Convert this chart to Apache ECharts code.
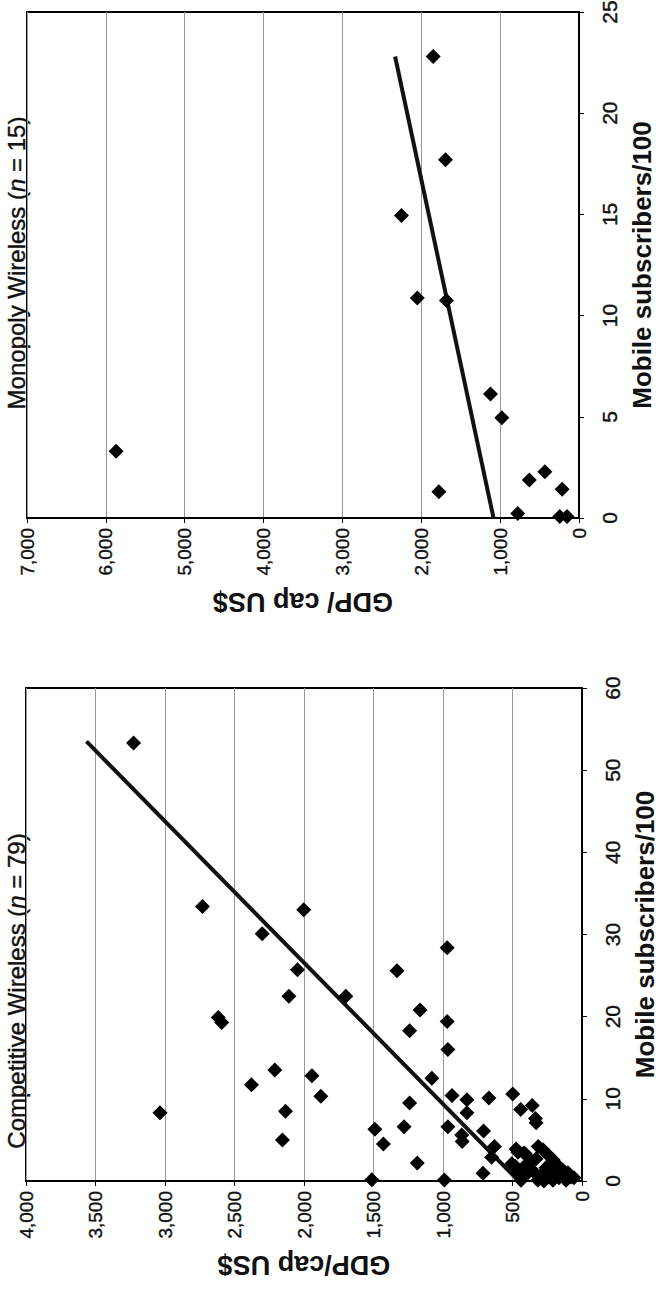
<!DOCTYPE html>
<html>
<head>
<meta charset="utf-8">
<script src="https://cdn.jsdelivr.net/npm/echarts@6/dist/echarts.min.js"></script>
<style>
html,body{margin:0;padding:0;background:#fff;}
#chart{width:665px;height:1295px;}
</style>
</head>
<body>
<div id="chart"></div>
<script>
// ---- Monopoly Wireless (n = 15) ----
var monopolyGdp  = [5870, 1849, 1693, 2252, 2050, 1681, 1122, 979, 433, 630, 214, 1777, 777, 244, 151];
var monopolySubs = [3.3, 22.8, 17.7, 14.95, 10.87, 10.75, 6.13, 4.95, 2.28, 1.88, 1.42, 1.3, 0.22, 0.08, 0.08];
var monopolyTrendGdp  = [1084, 2332];
var monopolyTrendSubs = [0, 22.8];

// ---- Competitive Wireless (n = 79) ----
var competitiveGdp = [
  3226, 2730, 2002, 2301, 970, 2047, 1331, 1699, 2109, 1165,
  2617, 2592, 970, 1240, 965, 2210, 1943, 1080, 2378, 1879,
  935, 498, 670, 828, 3036, 1240, 358, 2133, 441, 828,
  335, 330, 1490, 1280, 965, 708, 2155, 1429, 865, 862,
  630, 474, 315, 650, 1185, 407, 505, 712, 1512, 990,
  461, 418, 281, 245, 209, 173, 137, 101, 79, 418,
  367, 345, 389, 461, 295, 245, 209, 166, 115, 259,
  209, 151, 439, 317, 274, 58, 330, 480, 190
];
var competitiveSubs = [
  53.3, 33.4, 33.0, 30.1, 28.4, 25.7, 25.6, 22.5, 22.5, 20.8,
  19.9, 19.3, 19.4, 18.3, 16.0, 13.5, 12.8, 12.5, 11.7, 10.3,
  10.4, 10.6, 10.1, 9.9, 8.3, 9.5, 9.2, 8.5, 8.7, 8.3,
  7.6, 7.1, 6.3, 6.6, 6.6, 6.1, 5.0, 4.5, 5.6, 4.8,
  4.2, 3.9, 4.2, 2.9, 2.2, 3.3, 2.1, 0.95, 0.15, 0.12,
  3.5, 3.4, 3.8, 3.2, 2.6, 1.9, 1.3, 1.0, 0.5, 1.7,
  2.3, 1.1, 1.0, 1.0, 0.7, 0.5, 0.1, 0.4, 0.1, 1.6,
  1.1, 1.1, 0.1, 0.1, 0.0, 0.4, 2.7, 1.8, 2.0
];
var competitiveTrendGdp  = [470, 3565];
var competitiveTrendSubs = [0.25, 53.5];

var monopolyTitle = 'Monopoly Wireless (';
var monopolyTitleN = ' = 15)';
var competitiveTitle = 'Competitive Wireless (';
var competitiveTitleN = ' = 79)';
var gdpAxisNameTop = 'GDP/ cap US$';
var gdpAxisNameBottom = 'GDP/cap US$';
var subsAxisName = 'Mobile subscribers/100';

function zip(a, b) { return a.map(function (v, i) { return [v, b[i]]; }); }

var FONT = "'Liberation Sans Narrow', 'Arial Narrow', 'Liberation Sans', Arial, sans-serif";
var INK = '#000000';
var TXT = '#111111';

function fmt(v) { return v.toLocaleString('en-US'); }

function gdpAxis(gi, max, interval, name) {
  return {
    gridIndex: gi, type: 'value', min: 0, max: max, interval: interval,
    inverse: true, position: 'bottom',
    axisLine: { show: true, onZero: false, lineStyle: { color: INK, width: 2 } },
    axisTick: { show: true, length: 5, lineStyle: { color: INK, width: 1 } },
    axisLabel: { rotate: 90, margin: 10, fontSize: 19, fontFamily: FONT, color: TXT, formatter: fmt,
      textBorderColor: TXT, textBorderWidth: 0.4 },
    splitLine: { show: true, lineStyle: { color: '#999999', width: 1 } },
    name: name, nameLocation: 'middle', nameRotate: 180, nameGap: 70, nameMoveOverlap: false,
    nameTextStyle: { fontSize: 27, fontWeight: 'bold', fontFamily: FONT, color: TXT }
  };
}
function subsAxis(gi, max, interval) {
  return {
    gridIndex: gi, type: 'value', min: 0, max: max, interval: interval,
    position: 'right',
    axisLine: { show: true, onZero: false, lineStyle: { color: INK, width: 2 } },
    axisTick: { show: true, length: 5, lineStyle: { color: INK, width: 1 } },
    axisLabel: { rotate: 90, margin: 20, fontSize: 21, fontFamily: FONT, color: TXT,
      textBorderColor: TXT, textBorderWidth: 0.4 },
    splitLine: { show: false },
    name: subsAxisName, nameLocation: 'middle', nameRotate: 90, nameGap: 50, nameMoveOverlap: false,
    nameTextStyle: { fontSize: 26, fontWeight: 'bold', fontFamily: FONT, color: TXT }
  };
}

function titleText(x, y, head, tail) {
  return { type: 'text', x: x, y: y, rotation: Math.PI / 2,
    style: { text: head + '{i|n}' + tail, align: 'center', verticalAlign: 'middle',
      fontSize: 24, fontFamily: FONT, fill: TXT, stroke: TXT, lineWidth: 0.4,
      rich: { i: { fontStyle: 'italic', fontSize: 24, fontFamily: FONT, fill: TXT } } } };
}

var chart = echarts.init(document.getElementById('chart'), null, { renderer: 'svg' });
chart.setOption({
  backgroundColor: '#ffffff',
  animation: false,
  grid: [
    { left: 27, top: 12, width: 552, height: 506, containLabel: false, outerBoundsMode: 'none',
      show: true, borderColor: INK, borderWidth: 2, backgroundColor: 'transparent' },
    { left: 26, top: 688, width: 556, height: 493, containLabel: false, outerBoundsMode: 'none',
      show: true, borderColor: INK, borderWidth: 2, backgroundColor: 'transparent' }
  ],
  xAxis: [gdpAxis(0, 7000, 1000, gdpAxisNameTop), gdpAxis(1, 4000, 500, gdpAxisNameBottom)],
  yAxis: [subsAxis(0, 25, 5), subsAxis(1, 60, 10)],
  graphic: [
    titleText(16, 263, monopolyTitle, monopolyTitleN),
    titleText(16, 991, competitiveTitle, competitiveTitleN)
  ],
  series: [
    { type: 'line', xAxisIndex: 0, yAxisIndex: 0, data: zip(monopolyTrendGdp, monopolyTrendSubs),
      symbol: 'none', lineStyle: { color: TXT, width: 4 }, z: 3 },
    { type: 'scatter', xAxisIndex: 0, yAxisIndex: 0, data: zip(monopolyGdp, monopolySubs),
      symbol: 'diamond', symbolSize: 15, itemStyle: { color: INK, opacity: 1 }, z: 4 },
    { type: 'line', xAxisIndex: 1, yAxisIndex: 1, data: zip(competitiveTrendGdp, competitiveTrendSubs),
      symbol: 'none', lineStyle: { color: TXT, width: 4 }, z: 3 },
    { type: 'scatter', xAxisIndex: 1, yAxisIndex: 1, data: zip(competitiveGdp, competitiveSubs),
      symbol: 'diamond', symbolSize: 15, itemStyle: { color: INK, opacity: 1 }, z: 4 }
  ]
});
</script>
</body>
</html>
